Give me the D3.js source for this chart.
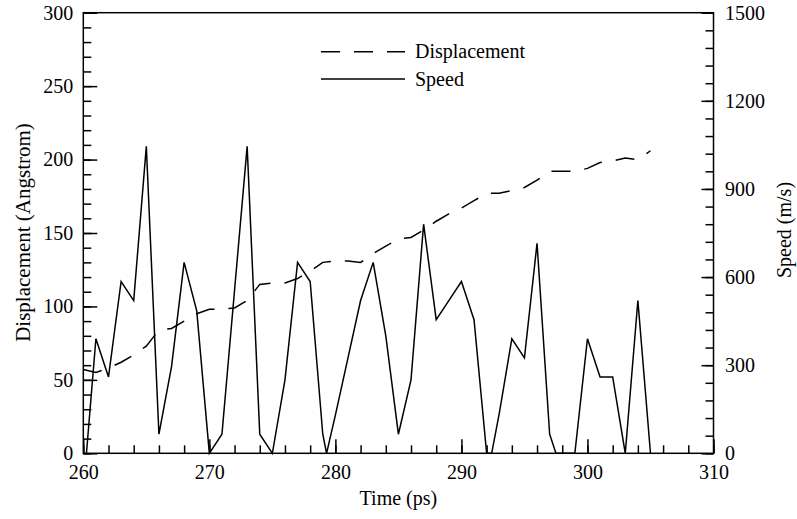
<!DOCTYPE html>
<html>
<head>
<meta charset="utf-8">
<script src="https://cdn.jsdelivr.net/npm/d3@7/dist/d3.min.js"></script>
<style>
  body { margin: 0; background: #fff; }
  svg text { font-family: "Liberation Serif", "Times New Roman", serif; fill: #000; }
</style>
</head>
<body>
<div id="wrapper"></div>
<script>
// Data

const dispTimes = d3.range(260, 306);
const displacement = [
  57, 55, 58, 62, 67, 73, 84, 85, 90, 95,
  98, 98, 99, 104, 115, 116, 116, 119, 124, 130,
  131, 131, 130, 136, 141, 146, 147, 152, 158, 163,
  167, 172, 177, 177, 179, 181, 186, 192, 192, 192,
  194, 198, 199, 201, 200, 206,
];

const speedTimes = [
  260.25, 261, 262, 263, 264, 265, 266, 267, 268, 269,
  270, 271, 272, 273, 274, 275, 276, 277, 278, 279,
  279.3, 280, 281, 282, 283, 284, 285, 286, 287, 288,
  289, 290, 291, 292, 292.4, 293, 294, 295, 296, 297,
  297.5, 298, 299, 300, 301, 302, 303, 304, 305,
];
const speed = [
  0, 390, 260, 585, 520, 1045, 65, 295, 650, 485,
  0, 65, 555, 1045, 65, 0, 250, 650, 585, 65,
  0, 130, 325, 520, 650, 400, 65, 250, 780, 455,
  520, 585, 455, 0, 0, 135, 390, 325, 715, 65,
  0, 0, 0, 390, 260, 260, 0, 520, 0,
];

const seriesNames = ["Displacement", "Speed"];

// Dimensions

const dimensions = {
  width: 797,
  height: 519,
  margin: { top: 12.7, right: 83.5, bottom: 65.7, left: 83.3 },
};
dimensions.boundedWidth = dimensions.width - dimensions.margin.left - dimensions.margin.right;
dimensions.boundedHeight = dimensions.height - dimensions.margin.top - dimensions.margin.bottom;

const wrapper = d3.select("#wrapper")
  .append("svg")
    .attr("width", dimensions.width)
    .attr("height", dimensions.height);

const bounds = wrapper.append("g")
    .attr("transform", `translate(${dimensions.margin.left}, ${dimensions.margin.top})`);

// Scales

const xScale = d3.scaleLinear()
    .domain([260, 310])
    .range([0, dimensions.boundedWidth]);

const yScale = d3.scaleLinear()
    .domain([0, 300])
    .range([dimensions.boundedHeight, 0]);

const speedScale = d3.scaleLinear()
    .domain([0, 1500])
    .range([dimensions.boundedHeight, 0]);

// Lines

const dispLine = d3.line()
    .x((d, i) => xScale(dispTimes[i]))
    .y(d => yScale(d));

const speedLine = d3.line()
    .x((d, i) => xScale(speedTimes[i]))
    .y(d => speedScale(d));

bounds.append("path")
    .attr("d", dispLine(displacement))
    .attr("fill", "none")
    .attr("stroke", "#000")
    .attr("stroke-width", 1.5)
    .attr("stroke-dasharray", "19,14");

bounds.append("path")
    .attr("d", speedLine(speed))
    .attr("fill", "none")
    .attr("stroke", "#000")
    .attr("stroke-width", 1.5);

// Axes (ticks point inwards)

const styleAxis = g => {
  g.select(".domain").remove();
  g.attr("font-family", null).attr("font-size", null);
  g.selectAll(".tick line").attr("stroke", "#000").attr("stroke-width", 1.5);
  g.selectAll(".tick text")
      .style("font-family", "'Liberation Serif', 'Times New Roman', serif")
      .style("font-size", "20px");
};

const fmt = d3.format("d");

bounds.append("g")
    .call(d3.axisLeft(yScale).tickValues(d3.range(0, 301, 10)).tickSize(-8).tickFormat(""))
    .call(styleAxis);
bounds.append("g")
    .call(d3.axisLeft(yScale).tickValues(d3.range(0, 301, 50)).tickSize(-14).tickPadding(10).tickFormat(fmt))
    .call(styleAxis);

bounds.append("g")
    .attr("transform", `translate(${dimensions.boundedWidth}, 0)`)
    .call(d3.axisRight(speedScale).tickValues(d3.range(0, 1501, 60)).tickSize(-8).tickFormat(""))
    .call(styleAxis);
bounds.append("g")
    .attr("transform", `translate(${dimensions.boundedWidth}, 0)`)
    .call(d3.axisRight(speedScale).tickValues(d3.range(0, 1501, 300)).tickSize(-12).tickPadding(11.5).tickFormat(fmt))
    .call(styleAxis);

bounds.append("g")
    .attr("transform", `translate(0, ${dimensions.boundedHeight})`)
    .call(d3.axisBottom(xScale).tickValues(d3.range(260, 311, 2)).tickSize(-8).tickFormat(""))
    .call(styleAxis);
bounds.append("g")
    .attr("transform", `translate(0, ${dimensions.boundedHeight})`)
    .call(d3.axisBottom(xScale).tickValues(d3.range(260, 311, 10)).tickSize(-14).tickPadding(11.5).tickFormat(fmt))
    .call(styleAxis);

bounds.append("rect")
    .attr("width", dimensions.boundedWidth)
    .attr("height", dimensions.boundedHeight)
    .attr("fill", "none")
    .attr("stroke", "#000")
    .attr("stroke-width", 1.5);

// Axis titles

bounds.append("text")
    .attr("x", dimensions.boundedWidth / 2)
    .attr("y", 505 - dimensions.margin.top)
    .attr("text-anchor", "middle")
    .style("font-size", "20px")
    .text("Time (ps)");

wrapper.append("text")
    .attr("transform", "translate(29.5, 232.5) rotate(-90)")
    .attr("text-anchor", "middle")
    .style("font-size", "21px")
    .text("Displacement (Angstrom)");

wrapper.append("text")
    .attr("transform", "translate(791, 230) rotate(-90)")
    .attr("text-anchor", "middle")
    .style("font-size", "20px")
    .text("Speed (m/s)");

// Legend

const legend = wrapper.append("g")
    .attr("transform", "translate(321, 0)");

const legendItems = legend.selectAll("g")
  .data(seriesNames)
  .join("g")
    .attr("transform", (d, i) => `translate(0, ${51.7 + i * 27.3})`);

legendItems.append("line")
    .attr("x1", 0)
    .attr("x2", 84)
    .attr("stroke", "#000")
    .attr("stroke-width", 1.5)
    .attr("stroke-dasharray", (d, i) => i === 0 ? "19,14" : null);

legendItems.append("text")
    .attr("x", 94)
    .attr("dy", "0.33em")
    .style("font-size", "20px")
    .text(d => d);
</script>
</body>
</html>
